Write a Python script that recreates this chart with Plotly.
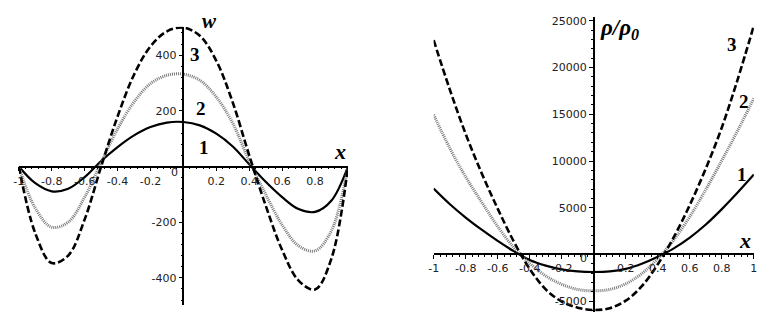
import plotly.graph_objects as go

# ---------------- data ----------------
x_vals = [-1.0, -0.9, -0.8, -0.7, -0.6, -0.5, -0.4, -0.3, -0.2, -0.1, 0.0,
          0.1, 0.2, 0.3, 0.4, 0.5, 0.6, 0.7, 0.8, 0.9, 1.0]

# left panel: w(x)
w1 = [0, -60, -89, -80, -38, 20, 70, 112, 142, 158, 160,
      148, 118, 72, 8, -55, -110, -153, -163, -122, 0]
w2 = [0, -150, -218, -200, -110, 15, 135, 232, 298, 328, 332,
      310, 250, 155, 20, -100, -210, -285, -303, -230, 0]
w3 = [0, -240, -347, -320, -190, 0, 180, 330, 432, 486, 499,
      470, 380, 230, 40, -140, -300, -410, -442, -330, 0]

# right panel: rho / rho0 (x)
r1 = [7050, 5400, 3950, 2650, 1450, 350, -600, -1200, -1600, -1820, -1880,
      -1820, -1550, -1000, -250, 650, 1800, 3200, 4850, 6650, 8550]
r2 = [14960, 11400, 8300, 5600, 3000, 750, -950, -2300, -3200, -3750, -3900,
      -3750, -3150, -2050, -450, 1550, 4050, 6950, 10050, 13300, 16700]
r3 = [22950, 17700, 12900, 8700, 4900, 1400, -1550, -3750, -5050, -5700, -5950,
      -5750, -4950, -3400, -1050, 1850, 5300, 9200, 13600, 18800, 24500]

left_xticks = [-1, -0.8, -0.6, -0.4, -0.2, 0.2, 0.4, 0.6, 0.8]
left_xtext = ["-1", "-0.8", "-0.6", "-0.4", "-0.2", "0.2", "0.4", "0.6", "0.8"]
left_yticks = [-400, -200, 200, 400]
right_xticks = [-1, -0.8, -0.6, -0.4, -0.2, 0.2, 0.4, 0.6, 0.8, 1]
right_xtext = ["-1", "-0.8", "-0.6", "-0.4", "-0.2", "0.2", "0.4", "0.6", "0.8", "1"]
right_yticks = [-5000, 5000, 10000, 15000, 20000, 25000]

# ---------------- layout geometry ----------------
W, H = 772, 321
L_xrange = [-1, 1]
L_yrange = [-498, 502]
R_xrange = [-1, 1]
R_yrange = [-6138, 25426]

L_xdom = [14 / W, 347 / W]
L_ydom = [(H - 305) / H, (H - 25) / H]
R_xdom = [433.7 / W, 757.7 / W]
R_ydom = [(H - 311.7) / H, (H - 15) / H]


def zero_pos(rng, dom):
    f = (0 - rng[0]) / (rng[1] - rng[0])
    return dom[0] + f * (dom[1] - dom[0])


tickfont = dict(family="DejaVu Sans", size=11, color="#222222")

styles = [
    dict(color="black", width=2.2, dash="solid"),
    dict(color="#7a7a7a", width=3, dash="1px,1px"),
    dict(color="black", width=2.6, dash="7px,3px"),
]

fig = go.Figure()
for ys, st in zip([w1, w2, w3], styles):
    fig.add_trace(go.Scatter(x=x_vals, y=ys, mode="lines", line=dict(shape="spline", **st),
                             xaxis="x", yaxis="y", showlegend=False, hoverinfo="skip"))
for ys, st in zip([r1, r2, r3], styles):
    fig.add_trace(go.Scatter(x=x_vals, y=ys, mode="lines", line=dict(shape="spline", **st),
                             xaxis="x2", yaxis="y2", showlegend=False, hoverinfo="skip"))


def xax(dom, rng, pos, tv, tt, minor_dt):
    return dict(domain=dom, range=rng, anchor="free", position=pos, side="bottom",
                showline=True, linecolor="black", linewidth=1.6,
                ticks="outside", ticklen=4, tickwidth=1, tickcolor="black",
                tickmode="array", tickvals=tv, ticktext=tt, tickfont=tickfont,
                showgrid=False, zeroline=False, fixedrange=True,
                minor=dict(tickmode="linear", tick0=0, dtick=minor_dt, ticks="outside",
                           ticklen=2, tickcolor="black", showgrid=False))


def yax(dom, rng, pos, tv, minor_dt):
    return dict(domain=dom, range=rng, anchor="free", position=pos, side="left",
                showline=True, linecolor="black", linewidth=1.6,
                ticks="outside", ticklen=4, tickwidth=1, tickcolor="black",
                tickmode="array", tickvals=tv, ticktext=[str(v) for v in tv], tickfont=tickfont,
                showgrid=False, zeroline=False, fixedrange=True,
                minor=dict(tickmode="linear", tick0=0, dtick=minor_dt, ticks="outside",
                           ticklen=2, tickcolor="black", showgrid=False))


fig.update_layout(
    width=W, height=H, margin=dict(l=0, r=0, t=0, b=0),
    paper_bgcolor="white", plot_bgcolor="white",
    xaxis=xax(L_xdom, L_xrange, zero_pos(L_yrange, L_ydom), left_xticks, left_xtext, 0.04),
    yaxis=yax(L_ydom, L_yrange, zero_pos(L_xrange, L_xdom), left_yticks, 40),
    xaxis2=xax(R_xdom, R_xrange, zero_pos(R_yrange, R_ydom), right_xticks, right_xtext, 0.04),
    yaxis2=yax(R_ydom, R_yrange, zero_pos(R_xrange, R_xdom), right_yticks, 1000),
)

serif = "Liberation Serif, DejaVu Serif, serif"
lab = dict(family=serif, size=19, color="black")
big = dict(family=serif, size=22, color="black")
ann = [
    # left panel
    dict(x=0.16, y=(H - 19) / H, xref="x", yref="paper", text="<b><i>w</i></b>",
         font=dict(family=serif, size=21, color="black")),
    dict(x=0.07, y=402, xref="x", yref="y", text="<b>3</b>", font=lab),
    dict(x=0.11, y=209, xref="x", yref="y", text="<b>2</b>", font=lab),
    dict(x=0.125, y=70, xref="x", yref="y", text="<b>1</b>", font=lab),
    dict(x=0.95, y=55, xref="x", yref="y", text="<b><i>x</i></b>", font=big),
    dict(x=0, y=0, xref="x", yref="y", text="0", font=tickfont, xshift=-9, yshift=-6),
    # right panel
    dict(x=0.16, y=(H - 11) / H, xref="x2", yref="paper",
         text="<i><b>ρ/ρ</b><sub><b>0</b></sub></i>",
         font=dict(family=serif, size=23, color="black"), yanchor="top"),
    dict(x=0.866, y=22450, xref="x2", yref="y2", text="<b>3</b>", font=lab),
    dict(x=0.94, y=16380, xref="x2", yref="y2", text="<b>2</b>", font=lab),
    dict(x=0.928, y=8510, xref="x2", yref="y2", text="<b>1</b>", font=lab),
    dict(x=0.947, y=1490, xref="x2", yref="y2", text="<b><i>x</i></b>", font=big),
    dict(x=0, y=0, xref="x2", yref="y2", text="0", font=tickfont, xshift=-10, yshift=-4),
]
for a in ann:
    a.setdefault("showarrow", False)
    a.setdefault("xanchor", "center")
    a.setdefault("yanchor", "middle")
fig.update_layout(annotations=ann)

fig.write_html("out.html", config={"displayModeBar": False})
